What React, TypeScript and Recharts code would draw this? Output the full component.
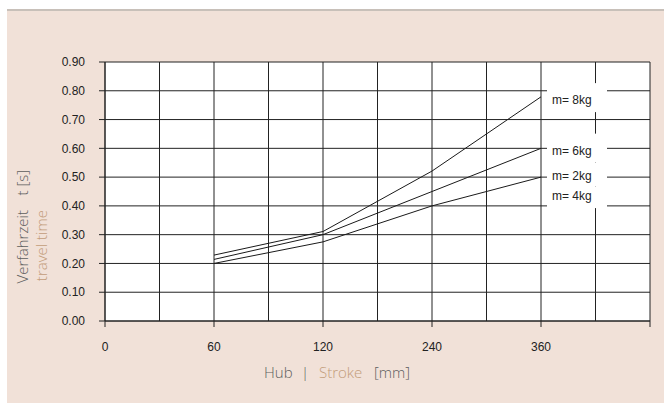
import React from "react";
import { LineChart, Line, XAxis, YAxis, CartesianGrid, LabelList } from "recharts";

// stroke positions (mm) and tick labels on the category-like x axis
const strokes = [60, 120, 240, 360];
const xLabels = ["0", "60", "120", "240", "360"];
const xTicks = [0, 0.5, 1, 1.5, 2, 2.5, 3, 3.5, 4, 4.5, 5];
const yTicks = [0, 0.1, 0.2, 0.3, 0.4, 0.5, 0.6, 0.7, 0.8, 0.9];

// travel time t [s] per payload mass (2 kg and 4 kg share one curve)
const m8 = [0.229, 0.311, 0.521, 0.779];
const m6 = [0.214, 0.3, 0.45, 0.6];
const m2m4 = [0.2, 0.275, 0.4, 0.5];

const data = strokes.map((s, i) => ({
  pos: xLabels.indexOf(String(s)),
  m8: m8[i],
  m6: m6[i],
  m2m4: m2m4[i],
}));

const series = [
  { key: "m8", labels: [{ text: "m= 8kg", textDy: 7.6, boxTop: -13.7, boxBottom: 15.3 }] },
  { key: "m6", labels: [{ text: "m= 6kg", textDy: 6.6, boxTop: -14.7, boxBottom: 14.3 }] },
  {
    key: "m2m4",
    labels: [
      { text: "m= 2kg", textDy: 3.3, boxTop: -14.3, boxBottom: 9.3 },
      { text: "m= 4kg", textDy: 23.3, boxTop: 9.3, boxBottom: 31 },
    ],
  },
];

const INK = "#222";
const GREY = "#5e5e5e";
const TAN = "#c29c7a";
const SANS = '"Liberation Sans", Arial, sans-serif';
const SOFT = '"Open Sans", "Noto Sans", sans-serif';

function XTick(props: any) {
  const { x, y, payload } = props;
  const v = payload.value;
  if (!Number.isInteger(v)) return <g />;
  const axisY = y - 8;
  return (
    <g>
      <line x1={x} x2={x} y1={axisY} y2={axisY + 6} stroke={INK} />
      {xLabels[v] ? (
        <text x={x} y={axisY + 30} textAnchor="middle" fill={INK} fontSize={12} fontFamily={SANS}>
          {xLabels[v]}
        </text>
      ) : null}
    </g>
  );
}

function makeEndLabel(labels: (typeof series)[number]["labels"]) {
  return (props: any) => {
    if (props.index !== strokes.length - 1) return null;
    const vb = props.viewBox || {};
    const x = vb.x ?? props.x;
    const y = vb.y ?? props.y;
    return (
      <g>
        {labels.map((l) => (
          <g key={l.text}>
            <rect x={x + 6} y={y + l.boxTop} width={60} height={l.boxBottom - l.boxTop} fill="#fff" />
            <text x={x + 11} y={y + l.textDy} fill={INK} fontSize={12} fontFamily={SANS}>
              {l.text}
            </text>
          </g>
        ))}
      </g>
    );
  };
}

const YTitle = () => (
  <g fontFamily={SOFT} fontSize={15} fontWeight={300}>
    <text transform="translate(21.3,199) rotate(-90)" textAnchor="end" fill={GREY}>
      Verfahrzeit
    </text>
    <text transform="translate(21.3,159) rotate(-90)" textAnchor="end" fill={GREY}>
      t [s]
    </text>
    <text transform="translate(39.7,199) rotate(-90)" textAnchor="end" fill={TAN}>
      travel time
    </text>
  </g>
);

const XTitle = () => (
  <text y={367.3} fontFamily={SOFT} fontSize={15} fontWeight={300} fill={GREY}>
    <tspan x={257}>Hub</tspan>
    <tspan x={294}>|</tspan>
    <tspan x={312} fill={TAN}>Stroke</tspan>
    <tspan x={367}>[mm]</tspan>
  </text>
);

export default function App() {
  return (
    <div
      style={{
        position: "absolute",
        left: 7,
        top: 9,
        width: 657,
        height: 394,
        boxSizing: "border-box",
        background: "#f1e1d8",
        borderTop: "2px solid #c8c0b9",
      }}
    >
      <LineChart width={657} height={392} data={data} margin={{ top: 51, right: 14, bottom: 52, left: 38 }}>
        <CartesianGrid stroke={INK} fill="#fff" />
        <XAxis
          type="number"
          dataKey="pos"
          domain={[0, 5]}
          ticks={xTicks}
          interval={0}
          tickLine={false}
          tickSize={6}
          tickMargin={2}
          stroke={INK}
          tick={<XTick />}
          height={30}
          label={XTitle}
        />
        <YAxis
          domain={[0, 0.9]}
          ticks={yTicks}
          interval={0}
          width={60}
          stroke={INK}
          tickSize={6}
          tickMargin={14}
          tickFormatter={(v: number) => v.toFixed(2)}
          tick={{ fill: INK, fontSize: 12, fontFamily: SANS }}
          label={YTitle}
        />
        {series.map((s) => (
          <Line
            key={s.key}
            type="linear"
            dataKey={s.key}
            stroke="#1a1a1a"
            strokeWidth={1}
            dot={false}
            isAnimationActive={false}
          >
            <LabelList dataKey={s.key} content={makeEndLabel(s.labels)} />
          </Line>
        ))}
      </LineChart>
    </div>
  );
}
